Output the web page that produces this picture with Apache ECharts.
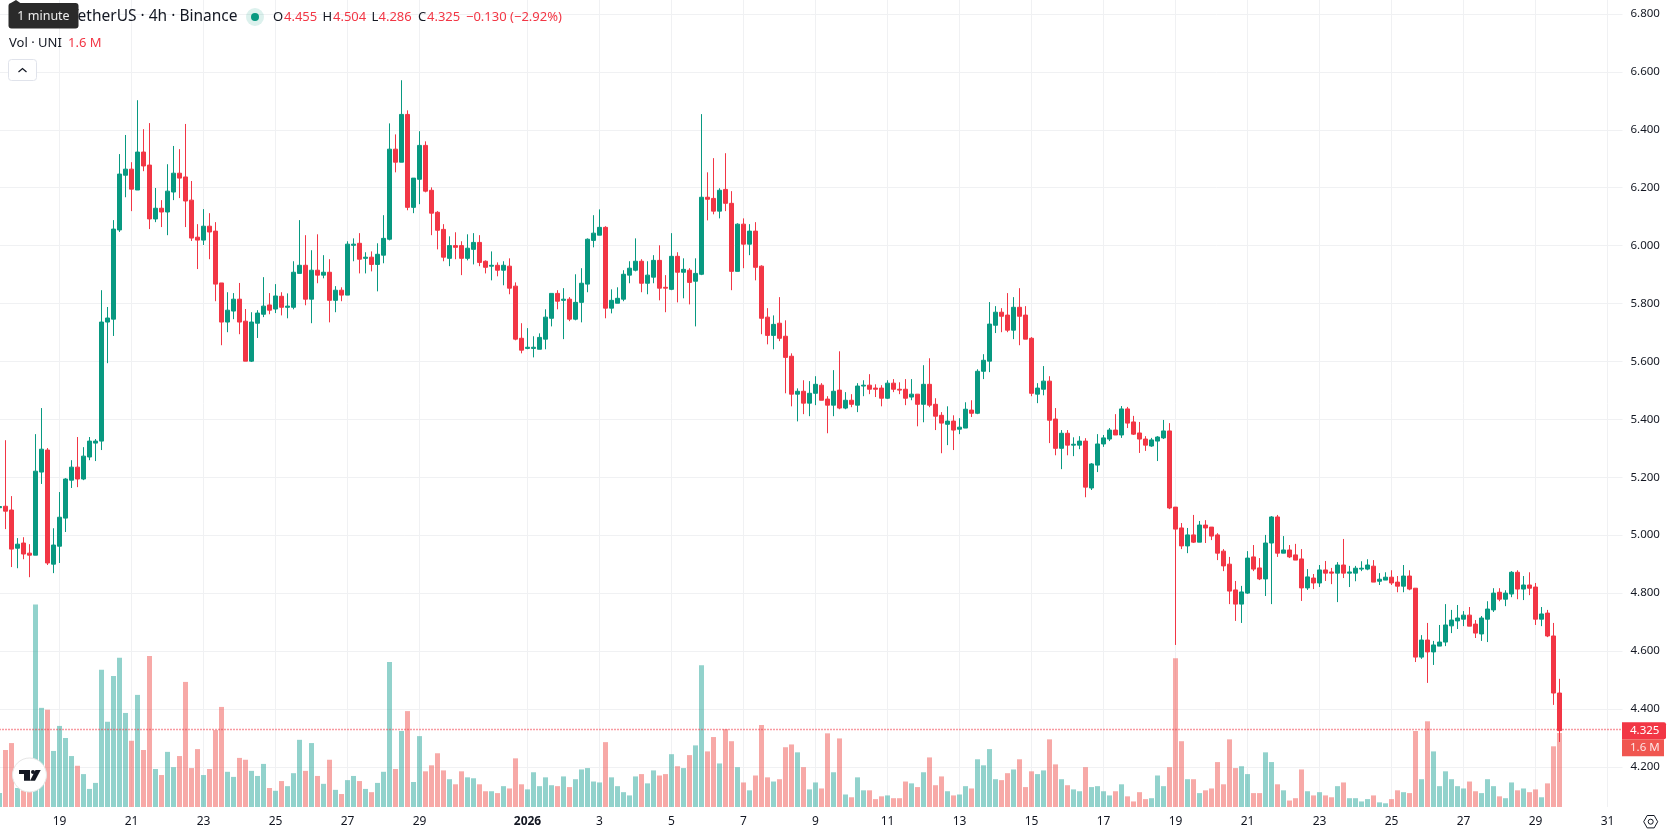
<!DOCTYPE html>
<html>
<head>
<meta charset="utf-8">
<title>UNI / TetherUS 4h</title>
<style>html,body{margin:0;padding:0;background:#fff}#chart{width:1678px;height:835px}</style>
<script src="https://cdn.jsdelivr.net/npm/echarts@6/dist/echarts.min.js"></script>
</head>
<body>
<div id="chart"></div>
<script>
// 4-hour UNI/USDT candles, oldest first
const opens = [
5.095,5.100,5.087,4.955,4.973,4.938,4.931,5.218,5.294,4.900,
4.962,5.059,5.190,5.235,5.194,5.270,5.318,5.325,5.736,5.746,
6.054,6.243,6.264,6.192,6.323,6.278,6.092,6.129,6.116,6.185,
6.250,6.237,6.157,6.029,6.019,6.067,6.050,5.871,5.736,5.774,
5.815,5.739,5.601,5.732,5.763,5.795,5.781,5.825,5.787,5.787,
5.904,5.932,5.815,5.915,5.898,5.908,5.811,5.846,5.829,6.001,
6.008,5.956,5.960,5.935,5.967,6.022,6.333,6.288,6.453,6.132,
6.229,6.346,6.191,6.115,6.056,5.956,6.000,6.000,5.956,5.987,
6.011,5.946,5.929,5.932,5.915,5.929,5.860,5.680,5.645,5.645,
5.642,5.677,5.749,5.835,5.811,5.815,5.746,5.804,5.867,6.018,
6.036,6.063,5.784,5.801,5.815,5.898,5.915,5.946,5.870,5.891,
5.949,5.856,5.849,5.963,5.908,5.915,5.877,5.901,6.167,6.163,
6.119,6.194,6.146,5.911,6.074,6.005,6.050,5.929,5.753,5.690,
5.732,5.687,5.618,5.487,5.497,5.456,5.490,5.518,5.470,5.449,
5.501,5.439,5.466,5.449,5.515,5.518,5.508,5.508,5.473,5.525,
5.504,5.504,5.477,5.487,5.452,5.521,5.452,5.414,5.383,5.394,
5.366,5.370,5.432,5.421,5.566,5.601,5.725,5.770,5.760,5.708,
5.787,5.760,5.680,5.487,5.504,5.532,5.401,5.300,5.352,5.311,
5.311,5.325,5.163,5.242,5.315,5.332,5.363,5.346,5.436,5.391,
5.353,5.332,5.308,5.325,5.336,5.360,5.097,5.025,4.963,5.001,
4.976,5.035,5.028,5.001,4.945,4.900,4.811,4.762,4.800,4.925,
4.887,4.849,4.973,5.063,4.938,4.949,4.932,4.918,4.818,4.852,
4.835,4.880,4.873,4.869,4.897,4.869,4.869,4.883,4.883,4.893,
4.841,4.845,4.855,4.838,4.824,4.859,4.817,4.579,4.638,4.597,
4.617,4.631,4.687,4.704,4.710,4.724,4.693,4.659,4.710,4.742,
4.803,4.779,4.797,4.872,4.814,4.828,4.821,4.710,4.731,4.652,4.455];
const highs = [
5.100,5.328,5.135,4.990,4.993,4.969,5.349,5.439,5.301,5.024,
5.149,5.197,5.259,5.339,5.304,5.339,5.332,5.846,5.788,6.088,
6.316,6.382,6.288,6.502,6.402,6.423,6.199,6.157,6.281,6.344,
6.333,6.420,6.223,6.074,6.126,6.112,6.081,5.871,5.839,5.836,
5.871,5.781,5.770,5.777,5.891,5.836,5.867,5.839,5.835,5.946,
6.088,6.036,5.984,6.039,5.967,5.953,5.860,5.856,6.015,6.025,
6.043,5.977,5.980,6.008,6.105,6.422,6.384,6.571,6.467,6.233,
6.395,6.360,6.201,6.119,6.074,6.032,6.046,6.015,6.039,6.043,
6.036,5.949,5.980,5.942,5.946,5.956,5.873,5.732,5.715,5.687,
5.697,5.780,5.835,5.846,5.853,5.822,5.901,5.922,6.025,6.105,
6.125,6.067,5.849,5.856,5.915,5.946,6.025,5.953,5.946,5.967,
6.001,5.898,6.043,5.977,5.956,5.922,5.956,6.454,6.253,6.302,
6.198,6.319,6.188,6.077,6.094,6.074,6.081,5.932,5.784,5.759,
5.822,5.742,5.628,5.507,5.535,5.532,5.549,5.525,5.480,5.570,
5.635,5.494,5.487,5.525,5.535,5.556,5.521,5.518,5.535,5.539,
5.528,5.539,5.539,5.487,5.587,5.611,5.473,5.425,5.445,5.414,
5.404,5.459,5.466,5.573,5.625,5.805,5.791,5.784,5.836,5.822,
5.853,5.791,5.684,5.525,5.584,5.549,5.439,5.363,5.363,5.338,
5.342,5.335,5.249,5.349,5.346,5.370,5.418,5.446,5.443,5.412,
5.391,5.342,5.336,5.342,5.398,5.387,5.097,5.042,5.025,5.070,
5.049,5.052,5.028,5.007,4.952,4.925,4.842,4.825,4.945,4.966,
4.921,5.001,5.066,5.070,4.997,4.966,4.970,4.952,4.883,4.866,
4.897,4.911,4.887,4.907,4.987,4.894,4.894,4.910,4.917,4.914,
4.869,4.872,4.879,4.859,4.897,4.879,4.817,4.655,4.697,4.635,
4.690,4.762,4.742,4.759,4.738,4.752,4.707,4.721,4.772,4.817,
4.817,4.810,4.876,4.879,4.859,4.872,4.835,4.752,4.742,4.697,4.504];
const lows = [
5.090,5.021,4.890,4.886,4.917,4.855,4.931,5.177,4.897,4.869,
4.904,5.011,5.163,5.166,5.190,5.259,5.256,5.294,5.594,5.688,
6.047,6.167,6.119,6.192,6.257,6.057,6.081,6.064,6.036,6.157,
6.164,6.064,6.016,5.919,6.002,5.953,5.808,5.656,5.701,5.746,
5.694,5.601,5.598,5.681,5.753,5.763,5.767,5.759,5.749,5.780,
5.904,5.794,5.732,5.870,5.887,5.735,5.770,5.808,5.829,5.946,
5.904,5.904,5.911,5.842,5.939,6.018,6.253,6.288,6.122,6.112,
6.143,6.184,6.036,5.987,5.946,5.929,5.953,5.898,5.949,5.935,
5.929,5.904,5.880,5.894,5.863,5.832,5.673,5.628,5.642,5.614,
5.642,5.642,5.721,5.780,5.677,5.739,5.742,5.735,5.839,5.994,
6.036,5.749,5.766,5.801,5.808,5.870,5.911,5.839,5.832,5.870,
5.811,5.770,5.846,5.804,5.818,5.797,5.721,5.898,6.087,6.108,
6.094,6.119,5.846,5.911,5.922,5.967,5.880,5.694,5.659,5.642,
5.670,5.490,5.445,5.393,5.418,5.411,5.449,5.466,5.352,5.411,
5.435,5.435,5.442,5.425,5.480,5.487,5.477,5.445,5.470,5.494,
5.487,5.449,5.466,5.376,5.390,5.442,5.363,5.283,5.311,5.294,
5.349,5.370,5.408,5.418,5.539,5.563,5.698,5.701,5.701,5.677,
5.656,5.677,5.480,5.456,5.483,5.318,5.276,5.228,5.276,5.273,
5.297,5.131,5.156,5.218,5.305,5.325,5.346,5.336,5.370,5.346,
5.284,5.291,5.305,5.256,5.332,5.090,4.621,4.952,4.938,4.973,
4.976,4.973,4.983,4.914,4.876,4.762,4.704,4.697,4.797,4.876,
4.845,4.790,4.762,4.925,4.938,4.921,4.914,4.773,4.811,4.814,
4.821,4.842,4.831,4.769,4.852,4.821,4.841,4.876,4.879,4.838,
4.828,4.845,4.828,4.803,4.803,4.810,4.562,4.573,4.490,4.552,
4.617,4.617,4.662,4.676,4.686,4.686,4.645,4.635,4.631,4.735,
4.772,4.755,4.786,4.779,4.776,4.793,4.690,4.686,4.648,4.414,4.286];
const closes = [
5.099,5.083,4.952,4.969,4.935,4.931,5.221,5.297,4.904,4.966,
5.062,5.194,5.235,5.194,5.273,5.325,5.325,5.736,5.750,6.057,
6.247,6.264,6.195,6.323,6.275,6.092,6.129,6.116,6.188,6.250,
6.233,6.154,6.026,6.019,6.067,6.047,5.867,5.736,5.777,5.815,
5.736,5.601,5.736,5.767,5.791,5.777,5.826,5.787,5.791,5.908,
5.932,5.815,5.915,5.898,5.908,5.811,5.846,5.829,6.005,6.005,
5.953,5.960,5.935,5.970,6.025,6.333,6.288,6.453,6.132,6.233,
6.346,6.188,6.112,6.053,5.960,6.000,5.994,5.956,5.991,6.011,
5.942,5.925,5.932,5.915,5.932,5.853,5.677,5.639,5.649,5.649,
5.683,5.753,5.835,5.808,5.815,5.746,5.804,5.870,6.022,6.043,
6.063,5.784,5.811,5.818,5.901,5.922,5.946,5.870,5.898,5.949,
5.853,5.853,5.963,5.908,5.918,5.873,5.904,6.167,6.160,6.119,
6.191,6.146,5.911,6.074,6.005,6.050,5.925,5.749,5.690,5.728,
5.680,5.614,5.487,5.497,5.456,5.490,5.521,5.466,5.449,5.497,
5.439,5.466,5.452,5.515,5.518,5.504,5.504,5.473,5.525,5.504,
5.501,5.473,5.487,5.452,5.521,5.449,5.411,5.387,5.394,5.363,
5.373,5.435,5.421,5.566,5.604,5.729,5.770,5.756,5.708,5.787,
5.756,5.677,5.490,5.508,5.532,5.397,5.300,5.352,5.311,5.314,
5.325,5.166,5.246,5.315,5.336,5.363,5.346,5.436,5.387,5.349,
5.332,5.311,5.329,5.339,5.360,5.094,5.021,4.963,5.001,4.976,
5.035,5.025,4.997,4.938,4.894,4.807,4.762,4.804,4.921,4.883,
4.849,4.973,5.063,4.938,4.949,4.925,4.914,4.818,4.856,4.835,
4.880,4.869,4.869,4.897,4.869,4.873,4.886,4.886,4.897,4.838,
4.848,4.855,4.835,4.824,4.859,4.814,4.579,4.638,4.597,4.621,
4.631,4.690,4.707,4.714,4.724,4.686,4.662,4.714,4.745,4.800,
4.779,4.800,4.872,4.814,4.828,4.817,4.710,4.728,4.652,4.455,4.325];
// traded volume per candle, in millions of UNI
const volumes = [
0.30,1.23,1.38,0.41,0.36,0.36,4.37,2.14,2.10,1.21,
1.75,1.49,1.10,0.89,0.71,0.39,0.52,2.96,1.84,2.83,
3.22,2.03,1.43,2.42,1.23,3.26,0.82,0.69,1.19,0.86,
1.10,2.70,0.84,1.25,0.69,0.82,1.66,2.16,0.76,0.65,
1.06,1.02,0.78,0.67,0.93,0.41,0.35,0.56,0.45,0.73,
1.45,0.78,1.38,0.67,0.50,1.02,0.37,0.28,0.58,0.67,
0.56,0.39,0.32,0.52,0.76,3.13,0.82,1.64,2.07,0.54,
1.53,0.77,0.90,1.16,0.79,0.60,0.49,0.77,0.64,0.62,
0.49,0.34,0.34,0.30,0.45,0.40,1.05,0.49,0.38,0.75,
0.45,0.64,0.47,0.45,0.66,0.43,0.60,0.81,0.84,0.55,
0.53,1.40,0.64,0.45,0.32,0.25,0.66,0.71,0.51,0.79,
0.68,0.71,1.14,0.88,0.84,1.12,1.33,3.06,1.20,1.51,
0.94,1.68,1.42,0.86,0.53,0.36,0.68,1.77,0.64,0.55,
0.60,1.29,1.35,1.18,0.86,0.38,0.53,0.40,1.59,0.75,
1.48,0.27,0.21,0.64,0.36,0.36,0.17,0.23,0.25,0.19,
0.19,0.55,0.51,0.43,0.75,1.07,0.47,0.66,0.34,0.25,
0.27,0.45,0.40,1.03,0.90,1.25,0.60,0.58,0.73,0.81,
1.03,0.43,0.77,0.71,0.79,1.46,0.92,0.60,0.47,0.38,
0.34,0.86,0.43,0.45,0.34,0.25,0.34,0.49,0.23,0.12,
0.32,0.17,0.19,0.68,0.45,0.86,3.21,1.42,0.60,0.60,
0.30,0.36,0.40,0.97,0.49,1.46,0.84,0.88,0.71,0.30,
0.30,1.18,0.97,0.49,0.36,0.14,0.19,0.81,0.34,0.25,
0.32,0.25,0.21,0.45,0.53,0.19,0.19,0.12,0.17,0.25,
0.10,0.08,0.17,0.36,0.32,0.30,1.64,0.60,1.85,1.20,
0.45,0.77,0.60,0.45,0.40,0.55,0.34,0.30,0.60,0.45,
0.23,0.19,0.53,0.36,0.40,0.32,0.38,0.21,0.51,1.31,1.60];

// Labelled days on the time scale, keyed by ISO date
const dayTicks = {
  '2025-12-19':'19','2025-12-21':'21','2025-12-23':'23','2025-12-25':'25','2025-12-27':'27','2025-12-29':'29',
  '2026-01-01':'2026','2026-01-03':'3','2026-01-05':'5','2026-01-07':'7','2026-01-09':'9','2026-01-11':'11',
  '2026-01-13':'13','2026-01-15':'15','2026-01-17':'17','2026-01-19':'19','2026-01-21':'21','2026-01-23':'23',
  '2026-01-25':'25','2026-01-27':'27','2026-01-29':'29','2026-01-31':'31'
};
const priceTicks = {min: 4.0, max: 7.0, step: 0.2};
const slotCount = 271;      // candles plus the empty stretch to the right of the last one
const firstCandle = Date.UTC(2025, 11, 17, 8);
const fourHours = 4 * 3600 * 1000;
const categories = Array.from({length: slotCount}, (_, i) =>
  new Date(firstCandle + i * fourHours).toISOString().slice(0, 13));

const UP = '#089981', DOWN = '#f23645';
const VOL_UP = 'rgba(38,166,154,0.5)', VOL_DOWN = 'rgba(239,83,80,0.5)';
const GRID = '#f0f1f3', INK = '#131722';
const FONT = '"Noto Sans", sans-serif';
const SCALE_SIZE = 11.5;

const isTick = (i, v) => (v.slice(11, 13) === '00') && (v.slice(0, 10) in dayTicks);
const tickText = v => {
  const t = dayTicks[v.slice(0, 10)];
  return t === '2026' ? '{b|2026}' : t;
};

const plotLeft = -3.5, plotWidth = 1626;

const chart = echarts.init(document.getElementById('chart'), null, {renderer: 'canvas'});
chart.setOption({
  animation: false,
  backgroundColor: '#ffffff',
  textStyle: {fontFamily: FONT},
  grid: [
    {left: plotLeft, width: plotWidth, top: -44, height: 868.8, outerBoundsMode: 'none'},
    {left: plotLeft, width: plotWidth, top: 0, height: 807, outerBoundsMode: 'none'}
  ],
  xAxis: [
    {type: 'category', gridIndex: 0, data: categories, show: false},
    {
      type: 'category', gridIndex: 1, data: categories,
      axisLine: {show: false},
      axisTick: {show: false},
      axisLabel: {
        interval: isTick, formatter: tickText, color: INK, fontSize: 12, fontFamily: FONT, margin: 9,
        rich: {b: {fontWeight: 'bold', fontSize: 12, color: INK, fontFamily: FONT}}
      },
      splitLine: {show: true, interval: isTick, alignWithLabel: true, lineStyle: {color: GRID, width: 1}}
    }
  ],
  yAxis: [
    {
      type: 'value', gridIndex: 0, position: 'right', scale: true,
      min: priceTicks.min, max: priceTicks.max, interval: priceTicks.step,
      axisLine: {show: false}, axisTick: {show: false},
      axisLabel: {
        color: INK, fontSize: SCALE_SIZE, fontFamily: FONT, margin: 8, showMinLabel: false, showMaxLabel: false,
        formatter: v => v.toFixed(3)
      },
      splitLine: {show: true, showMinLine: false, showMaxLine: false, lineStyle: {color: GRID, width: 1}}
    },
    {type: 'value', gridIndex: 1, min: 0, max: 17.42, show: false, splitLine: {show: false}}
  ],
  series: [
    {
      type: 'bar', name: 'Vol', xAxisIndex: 1, yAxisIndex: 1, barWidth: 5, silent: true,
      data: volumes.map((v, i) => ({
        value: v,
        itemStyle: {color: closes[i] >= opens[i] ? VOL_UP : VOL_DOWN}
      }))
    },
    {
      type: 'candlestick', name: 'UNI/USDT', xAxisIndex: 0, yAxisIndex: 0, barWidth: 5, silent: true,
      itemStyle: {color: UP, color0: DOWN, borderColor: UP, borderColor0: DOWN, borderWidth: 1},
      data: opens.map((o, i) => [o, closes[i], lows[i], highs[i]]),
      markLine: {
        silent: true, symbol: 'none', label: {show: false},
        lineStyle: {color: DOWN, width: 1.4, type: [1, 2]},
        data: [{yAxis: closes[closes.length - 1]}]
      }
    }
  ]
});

// Header legend, price-scale badges and chart furniture
const lastClose = closes[closes.length - 1];
const lastY = chart.convertToPixel({yAxisIndex: 0}, lastClose);
const txt = (x, y, text, fill, size, extra) => ({
  type: 'text', silent: true, z: 100, x, y,
  style: Object.assign({text, fill, font: (size || 13) + 'px ' + FONT, textVerticalAlign: 'middle'}, extra || {})
});
chart.setOption({
  graphic: [
    txt(237.5, 17, 'UNI / TetherUS · 4h · Binance', INK, 15.5, {textAlign: 'right'}),
    {type: 'polygon', silent: true, z: 101, shape: {points: [[10, 3.5], [16, 0], [21, 3.5]]}, style: {fill: '#2a2a2a'}},
    {type: 'rect', silent: true, z: 101, shape: {x: 8.5, y: 3, width: 70, height: 25.5, r: 3}, style: {fill: '#2a2a2a'}},
    Object.assign(txt(43.5, 16.5, '1 minute', '#eeeeee', 12.5, {textAlign: 'center'}), {z: 102}),
    {type: 'circle', silent: true, z: 100, shape: {cx: 255, cy: 17, r: 9}, style: {fill: 'rgba(8,153,129,0.14)'}},
    {type: 'circle', silent: true, z: 101, shape: {cx: 255, cy: 17, r: 4}, style: {fill: UP}},
    txt(273, 17, 'O', INK), txt(284, 17, opens[opens.length - 1].toFixed(3), DOWN),
    txt(322.5, 17, 'H', INK), txt(333, 17, highs[highs.length - 1].toFixed(3), DOWN),
    txt(371.5, 17, 'L', INK), txt(378.5, 17, lows[lows.length - 1].toFixed(3), DOWN),
    txt(418, 17, 'C', INK), txt(427, 17, lastClose.toFixed(3), DOWN),
    txt(466, 17, '−0.130 (−2.92%)', DOWN),
    txt(9, 43.5, 'Vol · UNI', INK),
    txt(68, 43.5, '1.6 M', DOWN),
    {type: 'rect', silent: true, z: 100, shape: {x: 8.5, y: 59.5, width: 28, height: 21, r: 3},
      style: {fill: '#ffffff', stroke: '#e0e3eb', lineWidth: 1}},
    {type: 'polyline', silent: true, z: 101, shape: {points: [[18.5, 72], [22.5, 68.5], [26.5, 72]]},
      style: {stroke: INK, lineWidth: 1.2, fill: null}},
    // branded badge bottom-left
    {type: 'circle', silent: true, z: 100, shape: {cx: 29.5, cy: 775, r: 17},
      style: {fill: '#ffffff', stroke: '#e6e6e6', lineWidth: 1}},
    {type: 'polygon', silent: true, z: 101, shape: {points: [[19, 770], [30, 770], [30, 780.7], [24, 780.7], [24, 774], [19, 774]]}, style: {fill: '#131722'}},
    {type: 'circle', silent: true, z: 101, shape: {cx: 33, cy: 772, r: 2}, style: {fill: '#131722'}},
    {type: 'polygon', silent: true, z: 101, shape: {points: [[35.5, 770], [40.7, 770], [35, 780.7], [30, 780.7]]}, style: {fill: '#131722'}},
    // last price and last volume badges on the scale
    {type: 'rect', silent: true, z: 100, shape: {x: 1622, y: lastY - 8.5, width: 44, height: 17, r: [0, 2, 2, 0]}, style: {fill: DOWN}},
    txt(1630, lastY, lastClose.toFixed(3), '#ffffff', SCALE_SIZE),
    {type: 'rect', silent: true, z: 100, shape: {x: 1622, y: lastY + 8.5, width: 42, height: 17}, style: {fill: '#f05650'}},
    txt(1630, lastY + 17, volumes[volumes.length - 1].toFixed(1) + ' M', 'rgba(255,255,255,0.85)', SCALE_SIZE),
    // settings hexagon
    {type: 'polygon', silent: true, z: 100,
      shape: {points: [[1643.7, 821.7], [1647.2, 815.5], [1654.2, 815.5], [1657.7, 821.7], [1654.2, 827.9], [1647.2, 827.9]]},
      style: {fill: null, stroke: INK, lineWidth: 1}},
    {type: 'circle', silent: true, z: 100, shape: {cx: 1650.7, cy: 821.7, r: 2.5}, style: {fill: null, stroke: INK, lineWidth: 1}}
  ]
});
</script>
</body>
</html>
